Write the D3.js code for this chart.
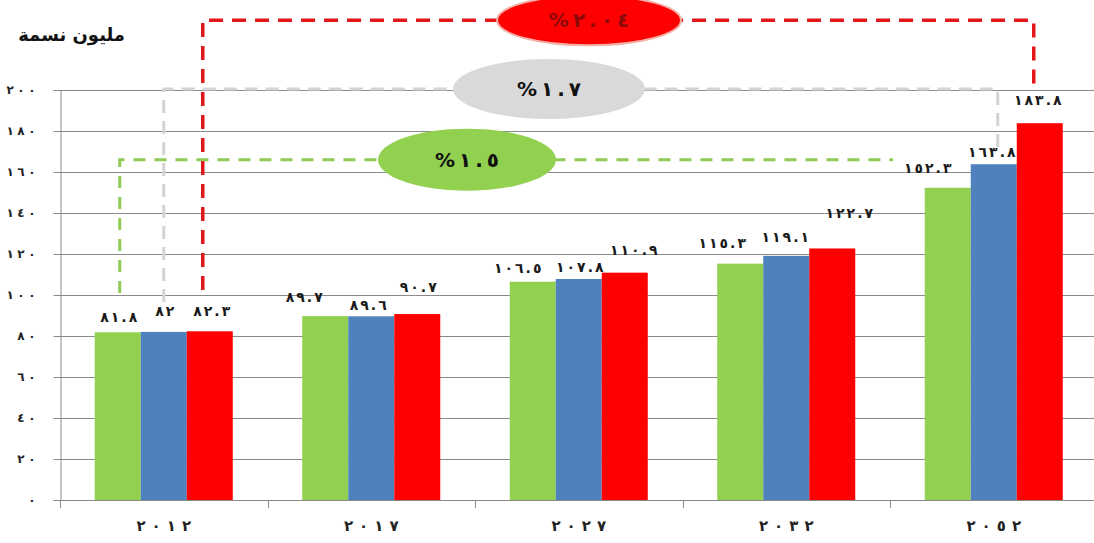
<!DOCTYPE html>
<html lang="ar">
<head>
<meta charset="utf-8">
<script src="https://cdn.jsdelivr.net/npm/d3@7/dist/d3.min.js"></script>
<style>
  html, body { margin: 0; padding: 0; background: #fff; }
  svg { display: block; font-family: "DejaVu Sans", sans-serif; }
</style>
</head>
<body>
<svg id="chart" width="1094" height="543"></svg>
<script>
// Population (million) by year, three projection scenarios
const years = ["2012", "2017", "2027", "2032", "2052"];
const scenarios = ["low", "mid", "high"];
const lowValues  = [81.8, 89.7, 106.5, 115.3, 152.3];
const midValues  = [82.0, 89.6, 107.8, 119.1, 163.8];
const highValues = [82.3, 90.7, 110.9, 122.7, 183.8];
const yTicks = [0, 20, 40, 60, 80, 100, 120, 140, 160, 180, 200];
const growthRates = ["1.5", "1.7", "2.04"];
const unitTitle = "مليون نسمة";

const colors = { low: "#92D050", mid: "#4F81BD", high: "#FF0000" };

// Label nudges (dx, dy from bar center / bar top), same order as the series
const labelNudge = {
  low:  [[0, -15], [-22, -19], [-16, -14], [-19, -21], [-21, -20]],
  mid:  [[0, -21], [-4, -11], [0, -12], [-2, -19], [-3, -12]],
  high: [[1, -20], [0, -27], [8, -23], [16, -35], [-3, -23]]
};

const toArabicDigits = s => String(s).replace(/[0-9]/g, d => "٠١٢٣٤٥٦٧٨٩"[+d]);
const fmtValue = v => toArabicDigits(Number.isInteger(v) ? v : v.toFixed(1));

// Writes a string one glyph per tspan so the digits can be spread apart
function spaced(textSel, str, gap) {
  textSel.text(null);
  textSel.selectAll("tspan")
    .data(Array.from(str))
    .join("tspan")
    .attr("dx", (d, i) => (i ? gap : 0))
    .text(d => d);
}

const seriesValues = { low: lowValues, mid: midValues, high: highValues };
const rows = years.map((yr, i) => ({
  year: yr,
  values: scenarios.map(s => ({ key: s, value: seriesValues[s][i], idx: i }))
}));

const svg = d3.select("#chart");
const plotLeft = 60, plotRight = 1097.5, plotBottom = 500, plotTop = 90;

const x0 = d3.scaleBand().domain(years).range([plotLeft, plotRight]).paddingInner(0).paddingOuter(0);
const x1 = d3.scaleBand().domain(scenarios).range([0, x0.bandwidth()]).paddingInner(0).paddingOuter(0.755);
const y = d3.scaleLinear().domain([0, 200]).range([plotBottom, plotTop]);

// Horizontal gridlines
svg.append("g")
  .selectAll("line")
  .data(yTicks.filter(t => t > 0))
  .join("line")
  .attr("x1", plotLeft).attr("x2", 1094)
  .attr("y1", d => Math.round(y(d)) + 0.5).attr("y2", d => Math.round(y(d)) + 0.5)
  .attr("stroke", "#8a8a8a").attr("stroke-width", 1);

// Y axis
const yAxis = svg.append("g")
  .attr("transform", `translate(${plotLeft + 0.5},0)`)
  .call(d3.axisLeft(y).tickValues(yTicks).tickSize(7).tickPadding(18).tickFormat(d => toArabicDigits(d)));
yAxis.select(".domain").attr("stroke", "#8a8a8a");
yAxis.selectAll(".tick line").attr("stroke", "#8a8a8a");
yAxis.selectAll(".tick text")
  .attr("font-family", "DejaVu Sans").attr("font-weight", "bold").attr("font-size", 12)
  .attr("fill", "#222")
  .each(function (d) { spaced(d3.select(this), toArabicDigits(d), 3.5); });

// X axis
const xAxis = svg.append("g")
  .attr("transform", `translate(0,${plotBottom + 0.5})`)
  .call(d3.axisBottom(x0).tickSize(0).tickPadding(20).tickFormat(d => toArabicDigits(d)));
xAxis.select(".domain").attr("stroke", "#8a8a8a").attr("d", `M${plotLeft},0H1094`);
xAxis.selectAll(".tick text")
  .attr("font-family", "DejaVu Sans").attr("font-weight", "bold").attr("font-size", 15)
  .attr("fill", "#222").attr("dx", 2)
  .each(function (d) { spaced(d3.select(this), toArabicDigits(d), 6); });
// Category boundary ticks
svg.append("g")
  .selectAll("line")
  .data(years)
  .join("line")
  .attr("x1", d => Math.round(x0(d)) + 0.5).attr("x2", d => Math.round(x0(d)) + 0.5)
  .attr("y1", plotBottom).attr("y2", plotBottom + 8)
  .attr("stroke", "#8a8a8a");

// Bars
const groups = svg.append("g").selectAll("g")
  .data(rows)
  .join("g")
  .attr("transform", d => `translate(${x0(d.year)},0)`);

groups.selectAll("rect")
  .data(d => d.values)
  .join("rect")
  .attr("x", d => x1(d.key))
  .attr("width", x1.bandwidth())
  .attr("y", d => y(d.value))
  .attr("height", d => y(0) - y(d.value))
  .attr("fill", d => colors[d.key]);

// Value labels
groups.selectAll("text")
  .data(d => d.values)
  .join("text")
  .attr("x", d => x1(d.key) + x1.bandwidth() / 2 + labelNudge[d.key][d.idx][0] + 1)
  .attr("y", d => y(d.value) + labelNudge[d.key][d.idx][1] + 5)
  .attr("text-anchor", "middle")
  .attr("direction", "ltr")
  .attr("font-family", "DejaVu Sans").attr("font-weight", "bold").attr("font-size", 14)
  .attr("fill", "#1a1a1a")
  .each(function (d) { spaced(d3.select(this), fmtValue(d.value), 2); });

// Growth-rate brackets: dashed paths from the first year's bar to the last year's bar
const barCenter = (yr, key) => x0(yr) + x1(key) + x1.bandwidth() / 2;
const firstYear = years[0], lastYear = years[years.length - 1];
const brackets = [
  { key: "low",  level: 166, xa: barCenter(firstYear, "low") + 2, xb: 893,
    yStart: 293, yEnd: null, color: "#8FCB55", width: 3, dash: "12,9" },
  { key: "mid",  level: 200.5, xa: barCenter(firstYear, "mid"), xb: barCenter(lastYear, "mid") + 4,
    yStart: 302, yEnd: 148, color: "#d4d4d4", width: 3, dash: "13,8" },
  { key: "high", level: 234, xa: barCenter(firstYear, "high") - 7, xb: barCenter(lastYear, "high") - 6,
    yStart: 290, yEnd: 92, color: "#E3161A", width: 3.5, dash: "14,9" }
];
svg.append("g")
  .selectAll("path")
  .data(brackets)
  .join("path")
  .attr("d", d => {
    const ly = y(d.level);
    let p = `M${d.xa},${d.yStart}V${ly}H${d.xb}`;
    if (d.yEnd !== null) p += `V${d.yEnd}`;
    return p;
  })
  .attr("fill", "none")
  .attr("stroke", d => d.color)
  .attr("stroke-width", d => d.width)
  .attr("stroke-dasharray", d => d.dash);

// Growth-rate ellipses
const badges = [
  { cx: 467, level: 166, rx: 89, ry: 31, fill: "#92D050", stroke: "none", text: "%" + toArabicDigits(growthRates[0]), color: "#111" },
  { cx: 549, level: 200.5, rx: 96, ry: 30, fill: "#D9D9D9", stroke: "none", text: "%" + toArabicDigits(growthRates[1]), color: "#111" },
  { cx: 589, level: 234, rx: 92, ry: 25, fill: "#FF0000", stroke: "#f5b0a8", text: "%" + toArabicDigits(growthRates[2]), color: "#8a0a0a" }
];
const badge = svg.append("g").selectAll("g").data(badges).join("g");
badge.append("ellipse")
  .attr("cx", d => d.cx).attr("cy", d => y(d.level))
  .attr("rx", d => d.rx).attr("ry", d => d.ry)
  .attr("fill", d => d.fill)
  .attr("stroke", d => d.stroke).attr("stroke-width", 2);
badge.append("text")
  .attr("x", d => d.cx).attr("y", d => y(d.level) + 7)
  .attr("text-anchor", "middle")
  .attr("direction", "ltr")
  .attr("font-family", "DejaVu Sans").attr("font-weight", "bold").attr("font-size", 20)
  .attr("fill", d => d.color)
  .each(function (d) { spaced(d3.select(this), d.text, 4); });

// Unit title
svg.append("text")
  .attr("x", 125).attr("y", 41)
  .attr("text-anchor", "end")
  .attr("font-family", "DejaVu Sans").attr("font-weight", "bold").attr("font-size", 18)
  .attr("fill", "#111")
  .text(unitTitle);
</script>
</body>
</html>
